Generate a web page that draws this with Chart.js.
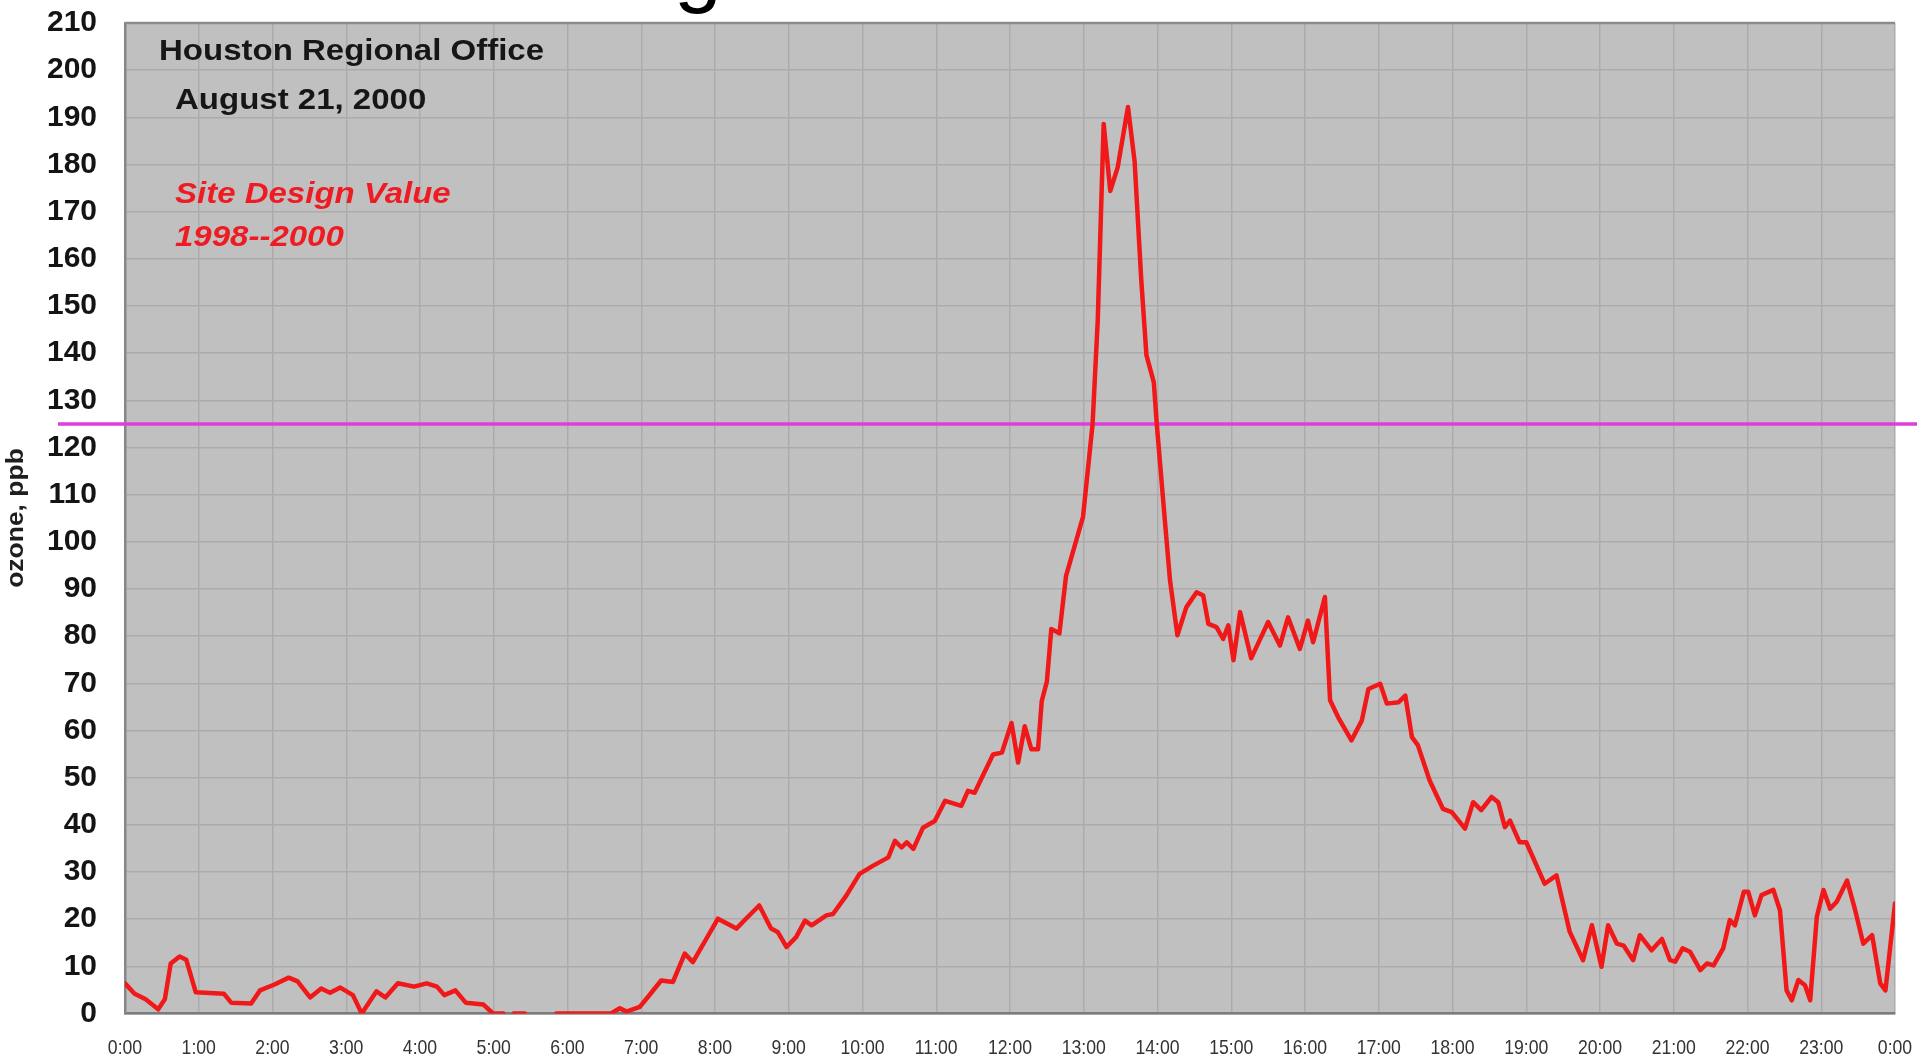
<!DOCTYPE html>
<html>
<head>
<meta charset="utf-8">
<title>Houston Regional Office - ozone, August 21, 2000</title>
<script src="https://cdn.jsdelivr.net/npm/chart.js@4.4.1/dist/chart.umd.min.js"></script>
<style>
  html, body { margin: 0; padding: 0; background: #ffffff; }
  #wrap { width: 1917px; height: 1060px; }
</style>
</head>
<body>
<div id="wrap"><canvas id="ozoneChart" width="1917" height="1060"></canvas></div>
<script>
// Time of each reading, decimal hours after midnight
var hours = [
  0, 0.13, 0.28, 0.45, 0.54, 0.62, 0.74, 0.83, 0.96, 1.34, 1.44, 1.71, 1.83, 2.02, 2.22, 2.34, 2.51,
  2.66, 2.78, 2.92, 3.09, 3.21, 3.41, 3.53, 3.70, 3.92, 4.09, 4.23, 4.33, 4.48, 4.62, 4.86, 4.99, 5.13,
  5.20, 5.27, 5.42, 5.60, 5.85, 6.59, 6.71, 6.80, 6.98,
  7.09, 7.27, 7.43, 7.59, 7.70, 8.04, 8.29, 8.42, 8.60, 8.76, 8.85, 8.97, 9.10, 9.22, 9.31, 9.51, 9.60,
  9.78, 9.96, 10.14, 10.35, 10.44, 10.53, 10.60, 10.69, 10.82, 10.98, 11.12, 11.34, 11.43, 11.52, 11.77,
  11.89, 12.02, 12.11, 12.20, 12.29, 12.38, 12.43, 12.50,
  12.56, 12.67, 12.76, 12.99, 13.12, 13.19, 13.27, 13.36, 13.46, 13.60, 13.69, 13.78, 13.85, 13.95, 13.99,
  14.10, 14.17, 14.27, 14.39, 14.53, 14.62, 14.69, 14.80, 14.89, 14.96, 15.03, 15.12, 15.27, 15.50, 15.66,
  15.77, 15.93, 16.04, 16.11, 16.27, 16.34, 16.45, 16.63, 16.77, 16.86, 17.02, 17.11, 17.27, 17.36,
  17.45, 17.53, 17.69, 17.87, 17.99, 18.17, 18.28, 18.39, 18.53, 18.62, 18.71, 18.78, 18.91, 19.00, 19.25,
  19.41, 19.59, 19.77, 19.89, 20.02, 20.11, 20.23, 20.32, 20.45, 20.54, 20.70, 20.84, 20.95, 21.02, 21.12,
  21.22, 21.36, 21.45, 21.54, 21.67, 21.76, 21.83, 21.95, 22.01, 22.10, 22.19, 22.35, 22.44, 22.53, 22.60,
  22.69, 22.78, 22.85, 22.94, 23.03, 23.12, 23.21, 23.35, 23.46, 23.57, 23.69, 23.80, 23.87, 24.00
];

// Ozone in ppb (null = missing reading, leaves a gap)
var ozone = [
  6.4, 4.2, 3.0, 0.9, 3.0, 10.6, 12.1, 11.4, 4.5, 4.2, 2.3, 2.1, 4.9, 6.1, 7.6, 6.8, 3.4,
  5.3, 4.4, 5.5, 3.9, 0, 4.7, 3.4, 6.4, 5.7, 6.4, 5.7, 3.9, 4.9, 2.3, 1.9, 0, 0,
  null, 0, 0, null, 0, 0, 1.1, 0.4, 1.4,
  3.5, 7.0, 6.7, 12.7, 10.9, 20.1, 18.0, 20.1, 22.9, 18.0, 17.3, 14.1, 16.2, 19.7, 18.7, 20.8, 21.1,
  25.0, 29.6, 31.3, 33.1, 36.6, 35.2, 36.3, 34.9, 39.4, 40.8, 45.1, 44.0, 47.2, 46.8, 54.9,
  55.3, 61.6, 53.2, 60.9, 56.0, 56.0, 66.2, 70.4,
  81.5, 80.6, 92.8, 105.3, 125, 147, 188.6, 174.4, 179.4, 192.2, 180.6, 155.5, 139.6, 133.8, 125,
  104.5, 91.8, 80.2, 86.1, 89.3, 88.6, 82.6, 81.9, 79.4, 82.3, 74.9, 85.1, 75.3, 83.0, 78.0,
  84.0, 77.3, 83.3, 78.7, 88.3, 66.4, 62.8, 57.9, 62.1, 68.8, 69.9, 65.7, 66.0, 67.4,
  58.6, 56.9, 49.4, 43.4, 42.7, 39.2, 44.8, 43.1, 45.9, 44.8, 39.5, 40.9, 36.3, 36.3, 27.5,
  29.3, 17.3, 11.3, 18.7, 9.9, 18.7, 14.8, 14.4, 11.3, 16.6, 13.4, 15.8, 11.3, 11.0, 13.8,
  13.1, 9.2, 10.6, 10.2, 13.8, 19.8, 18.7, 25.8, 25.8, 20.8, 25.1, 26.2, 21.9, 4.9, 2.8,
  7.1, 6.0, 2.8, 20.5, 26.2, 22.2, 23.7, 28.2, 21.9, 14.8, 16.6, 6.4, 4.9, 23.3
];

// x axis tick labels, one per hour
var hourLabels = ['0:00', '1:00', '2:00', '3:00', '4:00', '5:00', '6:00', '7:00', '8:00', '9:00',
  '10:00', '11:00', '12:00', '13:00', '14:00', '15:00', '16:00', '17:00', '18:00', '19:00',
  '20:00', '21:00', '22:00', '23:00', '0:00'];

// site design value line (ppb) and the notes in the plot
var designValue = 125;
var siteNote = ['Houston Regional Office', 'August 21, 2000'];
var designNote = ['Site Design Value', '1998--2000'];

var SANS = "'Liberation Sans', Arial, sans-serif";

// draw text stretched or squeezed sideways, like the scanned original
function wideText(ctx, text, x, y, sx) {
    ctx.save();
    ctx.translate(x, y);
    ctx.scale(sx, 1);
    ctx.fillText(text, 0, 0);
    ctx.restore();
}

var plotDecor = {
    id: 'plotDecor',
    beforeDraw: function(chart) {
        var a = chart.chartArea;
        var ctx = chart.ctx;
        ctx.save();
        ctx.fillStyle = '#c0c0c0';
        ctx.fillRect(a.left, a.top, a.right - a.left, a.bottom - a.top);
        ctx.restore();
    },
    beforeDatasetsDraw: function(chart) {
        var a = chart.chartArea;
        var ctx = chart.ctx;
        var y = chart.scales.y.getPixelForValue(designValue);
        ctx.save();
        // top edge of the plot
        ctx.strokeStyle = '#8c8c8c';
        ctx.lineWidth = 2.5;
        ctx.beginPath();
        ctx.moveTo(a.left, a.top);
        ctx.lineTo(a.right, a.top);
        ctx.stroke();
        // design value line runs past the plot on both sides
        ctx.strokeStyle = '#dd3fdd';
        ctx.lineWidth = 3.5;
        ctx.beginPath();
        ctx.moveTo(58, y);
        ctx.lineTo(chart.width, y);
        ctx.stroke();
        ctx.restore();
    },
    afterDraw: function(chart) {
        var ctx = chart.ctx;
        var xs = chart.scales.x;

        // hour labels, narrow like the original
        ctx.save();
        ctx.fillStyle = '#333333';
        ctx.font = '21px ' + SANS;
        ctx.textAlign = 'center';
        ctx.textBaseline = 'middle';
        xs.ticks.forEach(function(t) {
            wideText(ctx, hourLabels[t.value], xs.getPixelForValue(t.value), 1048, 0.84);
        });
        ctx.restore();

        ctx.save();
        ctx.textAlign = 'left';
        ctx.textBaseline = 'alphabetic';
        ctx.fillStyle = '#161616';
        ctx.font = 'bold 30px ' + SANS;
        wideText(ctx, siteNote[0], 159, 60, 1.1);
        wideText(ctx, siteNote[1], 175, 109, 1.1);

        ctx.fillStyle = '#ee1c22';
        ctx.font = 'italic bold 30px ' + SANS;
        wideText(ctx, designNote[0], 175, 203, 1.1);
        wideText(ctx, designNote[1], 175, 246, 1.1);

        // y axis title
        ctx.fillStyle = '#1e1e1e';
        ctx.font = 'bold 23px ' + SANS;
        ctx.textAlign = 'center';
        ctx.textBaseline = 'middle';
        ctx.translate(17, 518);
        ctx.rotate(-Math.PI / 2);
        ctx.scale(1.15, 1);
        ctx.fillText('ozone, ppb', 0, 0);
        ctx.restore();

        // bottom of the slide title that sits above the picture
        ctx.save();
        ctx.fillStyle = '#000000';
        ctx.font = '86px ' + SANS;
        ctx.textAlign = 'left';
        ctx.textBaseline = 'alphabetic';
        ctx.fillText('g', 674, -4);
        ctx.restore();
    }
};

var points = hours.map(function(h, i) {
    return { x: h, y: ozone[i] };
});

var ctx = document.getElementById('ozoneChart').getContext('2d');
var ozoneChart = new Chart(ctx, {
    type: 'line',
    data: {
        datasets: [{
            label: 'ozone, ppb',
            data: points,
            borderColor: '#f01818',
            borderWidth: 4.5,
            borderJoinStyle: 'round',
            borderCapStyle: 'round',
            pointRadius: 0,
            tension: 0,
            spanGaps: false
        }]
    },
    options: {
        responsive: false,
        animation: false,
        devicePixelRatio: 1,
        layout: { padding: { left: 0, right: 22, top: 23, bottom: 0 } },
        plugins: {
            legend: { display: false },
            tooltip: { enabled: false }
        },
        scales: {
            x: {
                type: 'linear',
                min: 0,
                max: 24,
                afterFit: function(scale) {
                    scale.height = 46.5;
                    scale.paddingLeft = 0;
                    scale.paddingRight = 0;
                },
                grid: { color: '#ababab', lineWidth: 1.5, drawTicks: false },
                border: { display: true, color: '#7c7c7c', width: 2.5 },
                ticks: { stepSize: 1, autoSkip: false, display: false }
            },
            y: {
                min: 0,
                max: 210,
                afterFit: function(scale) {
                    scale.width = 125;
                    scale.paddingTop = 0;
                    scale.paddingBottom = 0;
                },
                grid: { color: '#ababab', lineWidth: 1.5, drawTicks: false },
                border: { display: true, color: '#868686', width: 2.5 },
                ticks: {
                    stepSize: 10,
                    autoSkip: false,
                    padding: 28,
                    color: '#141414',
                    font: { family: SANS, size: 30, weight: 'bold' }
                }
            }
        }
    },
    plugins: [plotDecor]
});
</script>
</body>
</html>
